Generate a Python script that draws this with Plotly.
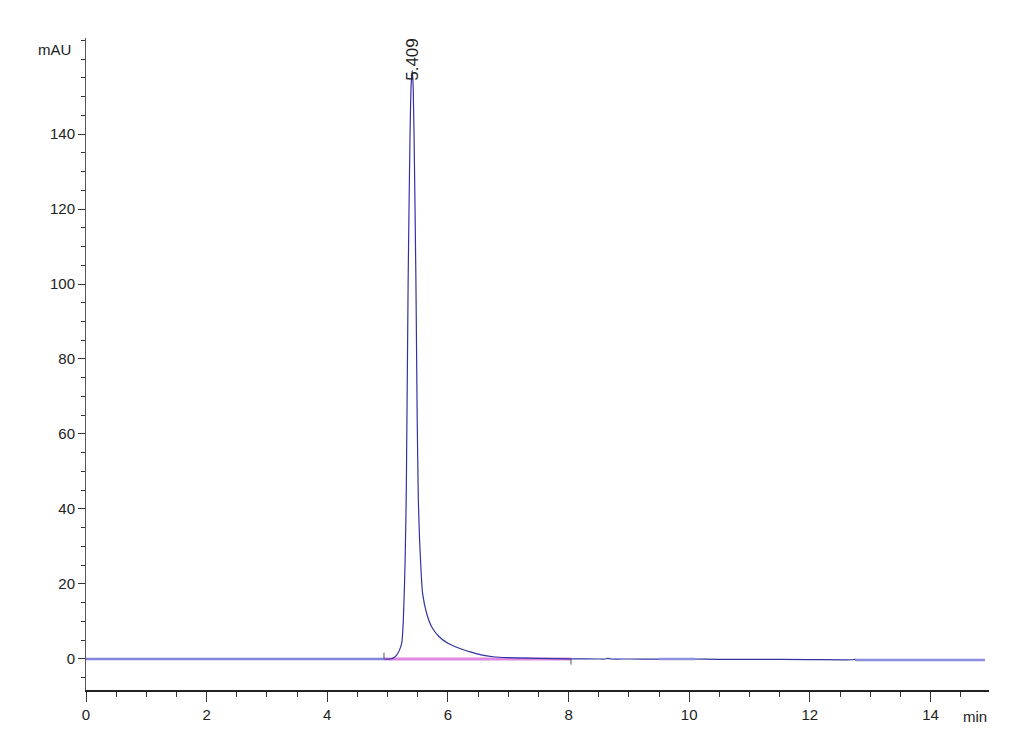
import plotly.graph_objects as go

# Chromatogram (time in min, absorbance in mAU)
time_min = [0.0, 2.0, 4.0, 4.9, 4.95, 5.04, 5.1, 5.15, 5.2, 5.235, 5.26, 5.29, 5.31,
            5.34, 5.37, 5.39, 5.409, 5.425, 5.445, 5.47, 5.49, 5.51, 5.53, 5.55, 5.58,
            5.65, 5.73, 5.85, 6.0, 6.2, 6.37, 6.55, 6.75, 7.0, 7.5, 8.0,
            8.5, 8.6, 8.65, 8.7, 9.0, 9.5, 10.0, 10.5, 11.0, 12.0, 12.7, 12.75, 12.8,
            13.0, 14.0, 14.9]
signal_mau = [0.0, 0.0, 0.0, 0.0, 0.0, 0.0, 0.3, 1.0, 2.5, 4.3, 10, 26, 45,
              100, 138, 153, 157, 152, 132, 100, 65, 42, 32, 25, 17.5,
              12, 8.6, 6.0, 4.2, 2.8, 1.9, 1.1, 0.6, 0.35, 0.15, 0.05,
              0.0, 0.0, 0.15, 0.0, 0.0, -0.05, 0.0, -0.1, -0.1, -0.15, -0.2, -0.1, -0.25,
              -0.25, -0.3, -0.3]

baseline_t = [4.94, 8.04]
baseline_v = [0.0, 0.0]
left_base_t = [0.0, 4.94]
left_base_v = [0.0, 0.0]
right_base_t = [12.75, 14.9]
right_base_v = [-0.25, -0.3]
mid_base_t = [9.5, 10.1]
mid_base_v = [0.0, 0.0]

peak_rt = 5.409
peak_label = "5.409"

x_ticks = [0, 2, 4, 6, 8, 10, 12, 14]
y_ticks = [0, 20, 40, 60, 80, 100, 120, 140]

FONT = "Liberation Sans, Arial, sans-serif"

fig = go.Figure()
fig.add_trace(go.Scatter(x=baseline_t, y=baseline_v, mode="lines",
                         line=dict(color="#de8ae4", width=3), hoverinfo="skip"))
fig.add_trace(go.Scatter(x=time_min, y=signal_mau, mode="lines",
                         line=dict(color="#33339f", width=1.2, shape="spline", smoothing=0.6)))
fig.add_trace(go.Scatter(x=left_base_t, y=left_base_v, mode="lines",
                         line=dict(color="#8484de", width=2.5), hoverinfo="skip"))
fig.add_trace(go.Scatter(x=right_base_t, y=right_base_v, mode="lines",
                         line=dict(color="#8c8ce0", width=2.5), hoverinfo="skip"))
fig.add_trace(go.Scatter(x=mid_base_t, y=mid_base_v, mode="lines",
                         line=dict(color="#9090e0", width=2.5), hoverinfo="skip"))
# integration tick marks
fig.add_trace(go.Scatter(x=[baseline_t[0], baseline_t[0]], y=[0, 1.7], mode="lines",
                         line=dict(color="#555555", width=1), hoverinfo="skip"))
fig.add_trace(go.Scatter(x=[baseline_t[1], baseline_t[1]], y=[0, -1.5], mode="lines",
                         line=dict(color="#555555", width=1), hoverinfo="skip"))

fig.add_annotation(x=peak_rt, y=153.6, text=peak_label, textangle=-90,
                   showarrow=False, xanchor="center", yanchor="bottom",
                   font=dict(family=FONT, size=17, color="#222222"))
fig.add_annotation(xref="paper", yref="paper", x=-0.014, y=0.983, text="mAU",
                   showarrow=False, xanchor="right", yanchor="middle",
                   font=dict(family=FONT, size=15, color="#222222"))
fig.add_annotation(xref="paper", yref="paper", x=1.0, y=-0.04, text="min",
                   showarrow=False, xanchor="right", yanchor="middle",
                   font=dict(family=FONT, size=15, color="#222222"))

fig.update_layout(
    width=1030, height=755,
    margin=dict(l=78, r=49, t=30, b=73),
    plot_bgcolor="white", paper_bgcolor="white",
    showlegend=False,
    font=dict(family=FONT, size=15, color="#222222"),
)
fig.update_xaxes(range=[0, 14.97], tickvals=x_ticks, ticks="outside", ticklen=10,
                 tickcolor="#333333", showline=True, linecolor="#222222", linewidth=1.5,
                 showgrid=False, zeroline=False,
                 minor=dict(dtick=0.5, tick0=0, ticks="outside", ticklen=5,
                            tickcolor="#333333", showgrid=False))
fig.update_yaxes(range=[-8.27, 165.6], tickvals=y_ticks, ticks="outside", ticklen=7,
                 tickcolor="#333333", showline=True, linecolor="#555555", linewidth=1,
                 showgrid=False, zeroline=False,
                 minor=dict(dtick=5, tick0=0, ticks="outside", ticklen=4,
                            tickcolor="#333333", showgrid=False))

fig.write_html("out.html")
